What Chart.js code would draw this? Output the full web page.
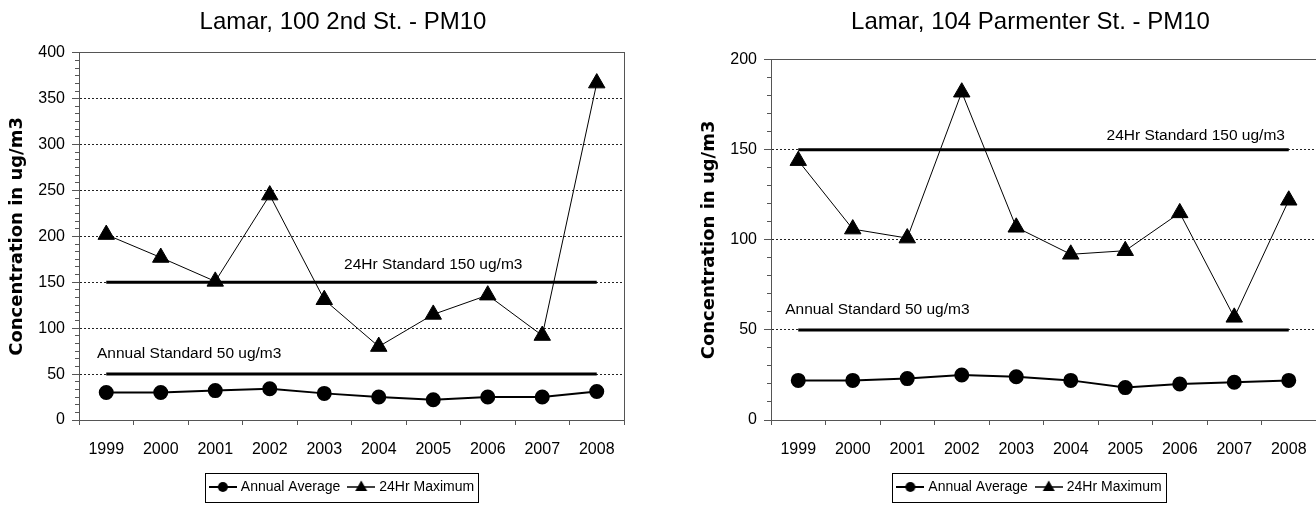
<!DOCTYPE html>
<html>
<head>
<meta charset="utf-8">
<title>Lamar PM10</title>
<script src="https://cdn.jsdelivr.net/npm/chart.js@4/dist/chart.umd.min.js"></script>
<style>
  html, body { margin: 0; padding: 0; background: #fff; }
  body { width: 1316px; height: 506px; overflow: hidden; position: relative; }
  canvas { position: absolute; top: 0; }
  #chartLeft { left: 0; }
  #chartRight { left: 660px; }
</style>
</head>
<body>
<canvas id="chartLeft" width="686" height="506"></canvas>
<canvas id="chartRight" width="741" height="506"></canvas>
<script>
const years = ['1999', '2000', '2001', '2002', '2003', '2004', '2005', '2006', '2007', '2008'];

// Lamar, 100 2nd St.
const secondStAnnual = [30, 30, 32, 34, 29, 25, 22, 25, 25, 31];
const secondStMax = [202, 177, 151, 245, 131, 80, 115, 136, 92, 367];

// Lamar, 104 Parmenter St.
const parmenterAnnual = [22, 22, 23, 25, 24, 22, 18, 20, 21, 22];
const parmenterMax = [144, 106, 101, 182, 107, 92, 94, 115, 57, 122];

// standards
const standard24Hr = [150, 150, 150, 150, 150, 150, 150, 150, 150, 150];
const standardAnnual = [50, 50, 50, 50, 50, 50, 50, 50, 50, 50];

const sans = '"Liberation Sans", Arial, sans-serif';
const axisGray = '#555';
const clear = 'rgba(0,0,0,0)';

Chart.defaults.font.family = sans;
Chart.defaults.color = '#000';

// small line + marker pictures for the legend
function legendSymbol(shape) {
	const c = document.createElement('canvas');
	c.width = 28;
	c.height = 18;
	const g = c.getContext('2d');
	g.strokeStyle = '#000';
	g.fillStyle = '#000';
	g.lineWidth = shape === 'circle' ? 2 : 1.5;
	g.beginPath();
	g.moveTo(0, 9);
	g.lineTo(28, 9);
	g.stroke();
	g.beginPath();
	if (shape === 'circle') {
		g.arc(14, 9, 5, 0, Math.PI * 2);
	} else {
		g.moveTo(14, 2.5);
		g.lineTo(20, 13);
		g.lineTo(8, 13);
		g.closePath();
	}
	g.fill();
	return c;
}
const circleSymbol = legendSymbol('circle');
const triangleSymbol = legendSymbol('triangle');

// text labels sitting over the standard lines
const standardLabels = {
	id: 'standardLabels',
	afterDatasetsDraw(chart, args, opts) {
		const ctx = chart.ctx;
		const x = chart.scales.x;
		const y = chart.scales.y;
		ctx.save();
		ctx.font = '15.5px ' + sans;
		ctx.fillStyle = '#000';
		ctx.textBaseline = 'middle';
		opts.items.forEach(item => {
			ctx.textAlign = item.align;
			ctx.fillText(item.text, x.getPixelForValue(item.at), y.getPixelForValue(item.value));
		});
		ctx.restore();
	}
};

// frame round the legend
const legendBox = {
	id: 'legendBox',
	afterDraw(chart) {
		const boxes = chart.legend.legendHitBoxes;
		if (!boxes || !boxes.length) return;
		const last = boxes[boxes.length - 1];
		const left = Math.round(boxes[0].left - 7) + 0.5;
		const right = Math.round(last.left + last.width + 4) + 0.5;
		const top = Math.round(boxes[0].top - 7) + 0.5;
		const bottom = Math.round(boxes[0].top + boxes[0].height + 8) + 0.5;
		const ctx = chart.ctx;
		ctx.save();
		ctx.strokeStyle = '#000';
		ctx.lineWidth = 1;
		ctx.strokeRect(left, top, right - left, bottom - top);
		ctx.restore();
	}
};

function makeChart(id, o) {
	const data = {
		labels: years,
		datasets: [{
			label: 'Annual Average',
			data: o.annual,
			borderColor: '#000',
			backgroundColor: '#000',
			borderWidth: 2,
			pointStyle: 'circle',
			pointRadius: 6.5,
			pointBackgroundColor: '#000',
			pointBorderColor: '#000',
			xAxisID: 'x',
			yAxisID: 'y'
		},
		{
			label: '24Hr Maximum',
			data: o.max,
			borderColor: '#000',
			backgroundColor: '#000',
			borderWidth: 1,
			pointStyle: 'triangle',
			pointRadius: 9.5,
			pointBackgroundColor: '#000',
			pointBorderColor: '#000',
			xAxisID: 'x',
			yAxisID: 'y'
		},
		{
			label: '24Hr Standard',
			data: standard24Hr,
			borderColor: '#000',
			borderWidth: 3,
			pointRadius: 0,
			xAxisID: 'x',
			yAxisID: 'y'
		},
		{
			label: 'Annual Standard',
			data: standardAnnual,
			borderColor: '#000',
			borderWidth: 3,
			pointRadius: 0,
			xAxisID: 'x',
			yAxisID: 'y'
		}]
	};

	const config = {
		type: 'line',
		data,
		plugins: [standardLabels, legendBox],
		options: {
			responsive: false,
			animation: false,
			devicePixelRatio: 1,
			layout: { padding: { left: 0, right: 0, top: 0, bottom: 2 } },
			plugins: {
				tooltip: { enabled: false },
				title: {
					display: true,
					text: o.title,
					font: { size: 24, weight: 'normal' },
					color: '#000',
					padding: { top: 8, bottom: o.titleGap }
				},
				legend: {
					position: 'bottom',
					labels: {
						usePointStyle: true,
						pointStyleWidth: 22,
						boxHeight: 14,
						padding: 10,
						font: { size: 14 },
						color: '#000',
						generateLabels: () => [
							{ text: 'Annual Average', pointStyle: circleSymbol, datasetIndex: 0, lineWidth: 0, fontColor: '#000' },
							{ text: '24Hr Maximum', pointStyle: triangleSymbol, datasetIndex: 1, lineWidth: 0, fontColor: '#000' }
						]
					}
				},
				standardLabels: { items: o.labels }
			},
			scales: {
				x: {
					type: 'category',
					position: 'bottom',
					offset: true,
					grid: { offset: true, drawOnChartArea: false, tickLength: 5, color: axisGray },
					border: { color: axisGray },
					ticks: { padding: 15, font: { size: 16 }, maxRotation: 0, autoSkip: false },
					afterFit(scale) { scale.height = 50; }
				},
				y: {
					type: 'linear',
					position: 'left',
					weight: 1,
					min: 0,
					max: o.max_y,
					ticks: { stepSize: 50, padding: 7, font: { size: 16 } },
					grid: {
						color: c => (c.tick && (c.tick.value === 0 || c.tick.value === o.max_y)) ? clear : '#222',
						tickColor: axisGray,
						tickLength: 7,
						tickBorderDash: []
					},
					border: { color: axisGray, dash: [2, 2] },
					title: {
						display: true,
						text: 'Concentration in ug/m3',
						font: { family: '"DejaVu Sans", Verdana, sans-serif', size: 18, weight: 'bold' },
						color: '#000',
						padding: { top: o.yTitlePad, bottom: 0 }
					},
					afterFit(scale) { scale.width = o.yWidth; }
				},
				yMinor: {
					type: 'linear',
					position: 'left',
					weight: 0,
					min: 0,
					max: o.max_y,
					ticks: { display: false, stepSize: o.minorStep },
					grid: { drawOnChartArea: false, tickLength: 4, color: axisGray },
					border: { display: false },
					afterFit(scale) { scale.width = 0; }
				},
				xTop: {
					type: 'linear',
					position: 'top',
					ticks: { display: false },
					grid: { drawOnChartArea: false, drawTicks: false },
					border: { color: axisGray },
					afterFit(scale) { scale.height = 0; }
				},
				yRight: {
					type: 'linear',
					position: 'right',
					ticks: { display: false },
					grid: { drawOnChartArea: false, drawTicks: false },
					border: { color: axisGray },
					afterFit(scale) { scale.width = o.rightGap; }
				}
			}
		}
	};

	return new Chart(document.getElementById(id), config);
}

makeChart('chartLeft', {
	title: 'Lamar, 100 2nd St. - PM10',
	annual: secondStAnnual,
	max: secondStMax,
	max_y: 400,
	minorStep: 50 / 6,
	titleGap: 16,
	yWidth: 79,
	yTitlePad: 7,
	rightGap: 62,
	labels: [
		{ text: '24Hr Standard 150 ug/m3', at: 6, value: 169, align: 'center' },
		{ text: 'Annual Standard 50 ug/m3', at: -0.17, value: 72, align: 'left' }
	]
});

makeChart('chartRight', {
	title: 'Lamar, 104 Parmenter St. - PM10',
	annual: parmenterAnnual,
	max: parmenterMax,
	max_y: 200,
	minorStep: 10,
	titleGap: 23,
	yWidth: 111,
	yTitlePad: 39,
	rightGap: 85,
	labels: [
		{ text: '24Hr Standard 150 ug/m3', at: 8.93, value: 158, align: 'right' },
		{ text: 'Annual Standard 50 ug/m3', at: -0.24, value: 61, align: 'left' }
	]
});
</script>
</body>
</html>
